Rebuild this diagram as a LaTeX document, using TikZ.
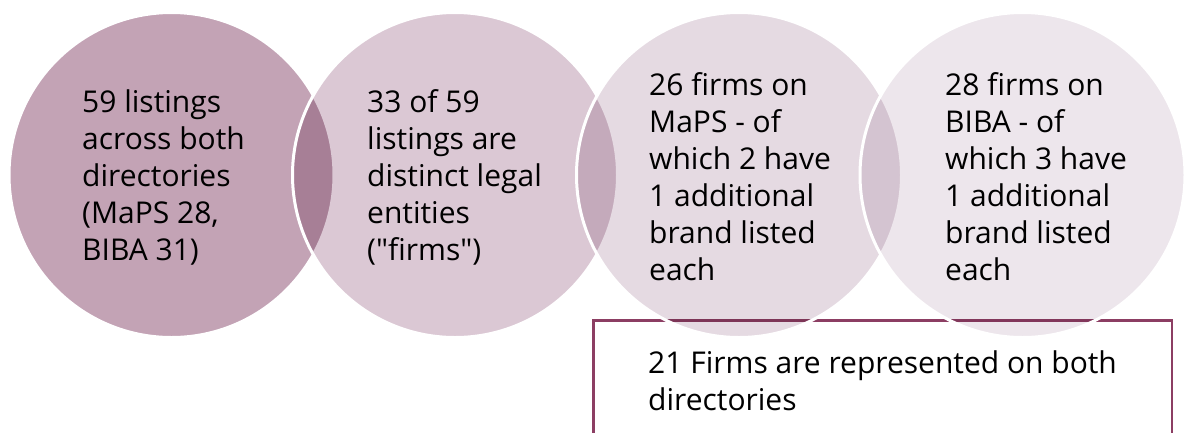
\documentclass[tikz,border=0pt]{standalone}
\usepackage{fontspec}
\setmainfont{Open Sans}[Ligatures=TeXOff]
\definecolor{ringA}{HTML}{C3A3B5}
\definecolor{ringB}{HTML}{DBC8D4}
\definecolor{ringC}{HTML}{E5DAE2}
\definecolor{ringD}{HTML}{EDE6EC}
\definecolor{frame}{HTML}{8C3E63}
\tikzset{
  disc/.style={fill=#1, blend mode=multiply},
  rim/.style={draw=white, line width=3pt},
  % anchored at the baseline of the last line
  label/.style={anchor=base west, inner sep=0pt, align=left,
    font=\fontsize{30}{37}\selectfont, text=black},
  notebox/.style={draw=frame, line width=2.5pt},
}
\begin{document}
\begin{tikzpicture}[x=1pt, y=-1pt]
  \useasboundingbox (0,0) rectangle (1187,432);
  \clip (0,0) rectangle (1187,432);
  % summary box, open at the bottom edge
  \coordinate (bl) at (593.5,445);
  \coordinate (br) at (1172,445);
  \draw[notebox] (bl) |- (1172,320.5) -- (br);
  \node[label] (both) at (648,410) {21 Firms are represented on both\\directories};
  % overlapping discs, each one multiplied onto the previous
  \foreach \cx/\col in {171.5/ringA, 455/ringB, 739/ringC, 1022.5/ringD} {
    \fill[disc=\col] (\cx,175) circle[radius=162.5pt];
    \draw[rim] (\cx,175) circle[radius=162.5pt];
  }
  \node[label] (listings) at (82,260) {59 listings\\across both\\directories\\(MaPS 28,\\BIBA 31)};
  \node[label] (distinct) at (367,260) {33 of 59\\listings are\\distinct legal\\entities\\("firms")};
  \node[label] (maps) at (649,280) {26 firms on\\MaPS - of\\which 2 have\\1 additional\\brand listed\\each};
  \node[label] (biba) at (945,280) {28 firms on\\BIBA - of\\which 3 have\\1 additional\\brand listed\\each};
\end{tikzpicture}
\end{document}
